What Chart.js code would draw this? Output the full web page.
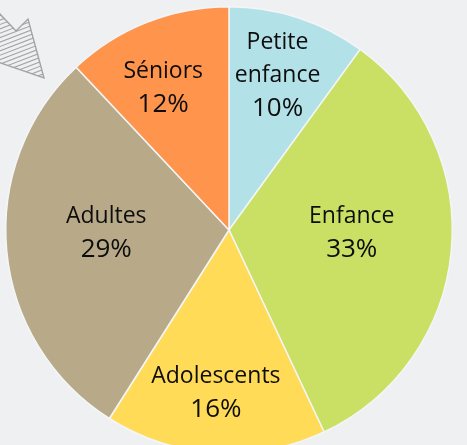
<!DOCTYPE html>
<html>
<head>
<meta charset="utf-8">
<script src="https://cdn.jsdelivr.net/npm/chart.js@4.4.1/dist/chart.umd.min.js"></script>
<style>
  html, body { margin: 0; padding: 0; background: #eff0f2; overflow: hidden; }
  #wrap { position: absolute; left: 0; top: 0; width: 458px; height: 460px; }
</style>
</head>
<body>
<div id="wrap"><canvas id="pieChart"></canvas></div>
<script>
  // Age groups, clockwise from 12 o'clock
  const categories = ['Petite enfance', 'Enfance', 'Adolescents', 'Adultes', 'Séniors'];
  const shares = [10, 33, 16, 29, 12];
  const sliceColors = ['#b3e1e8', '#c9e065', '#ffdb58', '#b8aa88', '#ff944d'];

  // label placement: fraction of radius, and a small turn (degrees) off the slice middle
  const labelRadius = [0.727, 0.55, 0.733, 0.55, 0.70];
  const labelTurn = [-0.6, -4, 1, 4, -3.3];

  // hatched arrow in the top-left corner (decoration)
  const arrowDeco = {
    id: 'arrowDeco',
    beforeDraw(chart) {
      const ctx = chart.ctx;
      const pts = [[-2, 12], [16, 31], [28, 19], [44, 78], [-2, 62]];
      ctx.save();
      ctx.beginPath();
      pts.forEach((p, i) => i ? ctx.lineTo(p[0], p[1]) : ctx.moveTo(p[0], p[1]));
      ctx.closePath();
      ctx.strokeStyle = '#a4a4a4';
      ctx.lineWidth = 1.4;
      ctx.stroke();
      ctx.clip();
      ctx.lineWidth = 1.1;
      ctx.beginPath();
      for (let y = 0; y < 120; y += 4.4) {
        ctx.moveTo(-5, y);
        ctx.lineTo(60, y - 25);
      }
      ctx.stroke();
      ctx.restore();
    }
  };

  const sliceLabels = {
    id: 'sliceLabels',
    afterDatasetsDraw(chart) {
      const ctx = chart.ctx;
      const meta = chart.getDatasetMeta(0);
      ctx.save();
      ctx.fillStyle = '#0d0d0d';
      ctx.textAlign = 'center';
      ctx.textBaseline = 'middle';
      meta.data.forEach((arc, i) => {
        const p = arc.getProps(['x', 'y', 'startAngle', 'endAngle', 'outerRadius'], true);
        const mid = (p.startAngle + p.endAngle) / 2 + labelTurn[i] * Math.PI / 180;
        const r = p.outerRadius * labelRadius[i];
        const cx = p.x + Math.cos(mid) * r;
        const cy = p.y + Math.sin(mid) * r;
        const lines = categories[i].split(' ').concat([shares[i] + '%']);
        const lh = 33;
        const top = cy - (lines.length - 1) * lh / 2;
        lines.forEach((t, j) => {
          ctx.font = j === lines.length - 1 ? '26px "Open Sans"' : '23px "Open Sans"';
          ctx.fillText(t, cx, top + j * lh);
        });
      });
      ctx.restore();
    }
  };

  const ctx = document.getElementById('pieChart').getContext('2d');
  const pieChart = new Chart(ctx, {
    type: 'pie',
    data: {
      labels: categories,
      datasets: [{
        data: shares,
        backgroundColor: sliceColors,
        borderColor: '#f4f5f6',
        borderWidth: 1.5
      }]
    },
    options: {
      responsive: true,
      maintainAspectRatio: false,
      animation: false,
      layout: { padding: 5 },
      plugins: {
        legend: { display: false },
        tooltip: { enabled: false }
      }
    },
    plugins: [arrowDeco, sliceLabels]
  });
</script>
</body>
</html>
